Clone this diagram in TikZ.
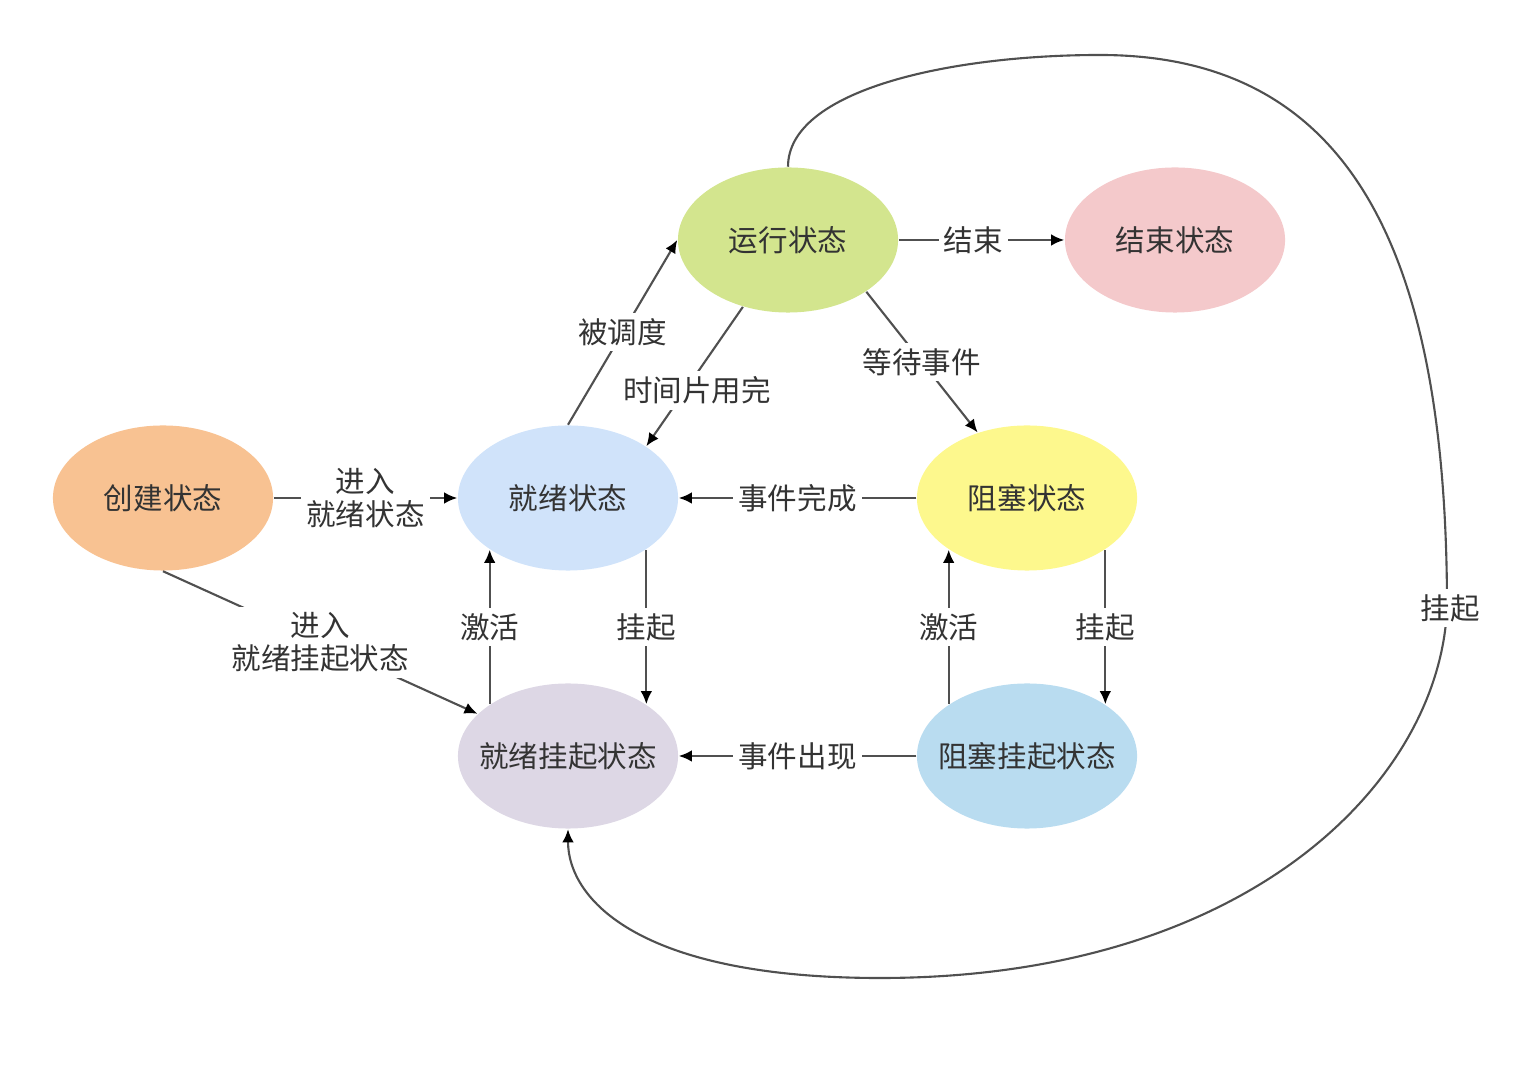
\documentclass[tikz,border=0pt]{standalone}
\usepackage{fontspec}
\setmainfont{Noto Sans CJK SC}
\usetikzlibrary{arrows.meta,shapes.geometric}
\definecolor{cRun}{HTML}{D3E58E}
\definecolor{cEnd}{HTML}{F4C9CB}
\definecolor{cNew}{HTML}{F8C292}
\definecolor{cReady}{HTML}{D0E3FA}
\definecolor{cBlock}{HTML}{FDF88D}
\definecolor{cReadyS}{HTML}{DDD7E5}
\definecolor{cBlockS}{HTML}{B9DCF0}
\definecolor{txt}{HTML}{333333}
\definecolor{ln}{HTML}{505050}
\newcommand{\zw}[1]{\makebox[0pt]{#1}}
\begin{document}
\begin{tikzpicture}[x=0.01cm,y=-0.01cm,
  state/.style={ellipse,minimum width=2.2cm,minimum height=1.45cm,inner sep=0pt,text=txt,font=\fontsize{8.4}{9.4}\selectfont},
  conn/.style={draw=ln,line width=0.6pt,-{Latex[length=1.3mm,width=1.15mm,color=black]}},
  lbl/.style={fill=white,inner sep=1.5pt,text=txt,font=\fontsize{8.4}{9.4}\selectfont,align=center}]
\useasboundingbox (0,0) rectangle (1522,1074);
\node[state,fill=cRun]    (yx)   at (788,240)  {\zw{运行状态}};
\node[state,fill=cEnd]    (js)   at (1175,240) {\zw{结束状态}};
\node[state,fill=cNew]    (cj)   at (163,498)  {\zw{创建状态}};
\node[state,fill=cReady]  (jx)   at (568,498)  {\zw{就绪状态}};
\node[state,fill=cBlock]  (zs)   at (1027,498) {\zw{阻塞状态}};
\node[state,fill=cReadyS] (jxgq) at (568,756)  {\zw{就绪挂起状态}};
\node[state,fill=cBlockS] (zsgq) at (1027,756) {\zw{阻塞挂起状态}};

\draw[conn] (jx.north) -- node[lbl] {被调度} (yx.west);
\draw[conn] (yx.236) -- node[lbl,pos=0.6,xshift=0.12cm] {时间片用完} (jx.north east);
\draw[conn] (yx.south east) -- node[lbl] {等待事件} (zs.127);
\draw[conn] (yx.east) -- node[lbl,xshift=-0.08cm] {结束} (js.west);
\draw[conn] (cj.east) -- node[lbl] {进入\\就绪状态} (jx.west);
\draw[conn] (zs.west) -- node[lbl] {事件完成} (jx.east);
\draw[conn] (jx.south east) -- node[lbl] {挂起} (jxgq.north east);
\draw[conn] (jxgq.north west) -- node[lbl] {激活} (jx.south west);
\draw[conn] (zs.south east) -- node[lbl] {挂起} (zsgq.north east);
\draw[conn] (zsgq.north west) -- node[lbl] {激活} (zs.south west);
\draw[conn] (zsgq.west) -- node[lbl] {事件出现} (jxgq.east);
\draw[conn] (cj.south) -- node[lbl] {进入\\就绪挂起状态} (jxgq.155);

\draw[conn] (yx.north) .. controls (788,90) and (950,55) .. (1100,55)
  .. controls (1350,55) and (1447,250) .. (1447,608)
  .. controls (1440,780) and (1250,978) .. (880,978)
  .. controls (640,978) and (568,900) .. (jxgq.south);
\node[lbl] (gqlbl) at (1450,608) {挂起};
\end{tikzpicture}
\end{document}
